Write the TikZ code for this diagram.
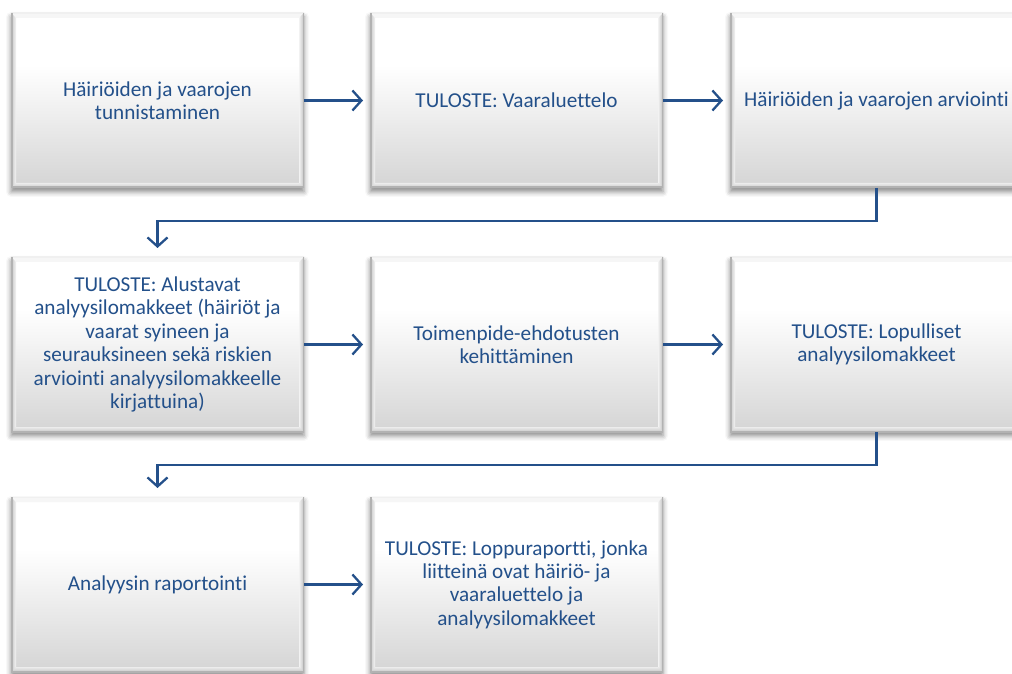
\documentclass[tikz,border=0pt]{standalone}
\usepackage{fontspec}
\setmainfont[Ligatures=NoCommon]{Carlito}
\usetikzlibrary{arrows.meta,shadows.blur}

\definecolor{txtblue}{HTML}{23508A}
\definecolor{arrblue}{HTML}{24508A}
\definecolor{fillbot}{HTML}{D4D4D4}
\definecolor{fillmid}{HTML}{EDEDED}

% vertical fill of the process boxes: light grey at the bottom, white in the upper half
\pgfdeclareverticalshading{bevelfill}{100bp}{%
  color(0bp)=(fillbot); color(25bp)=(fillbot); color(45bp)=(fillmid);
  color(60bp)=(white); color(75bp)=(white); color(100bp)=(white)}

\tikzset{
  stepbox/.style={
    minimum width=293pt, minimum height=175pt, inner sep=0pt, outer sep=0pt,
    shading=bevelfill, align=center, text=txtblue,
    font=\fontsize{21.2}{23.4}\selectfont,
    blur shadow={shadow xshift=0pt, shadow yshift=-4pt,
                 shadow blur radius=5pt, shadow opacity=45},
    path picture={
      % bevel bands along the four edges
      \fill[gray!7]
        (path picture bounding box.north west) -- (path picture bounding box.north east)
        -- ([shift={(-5pt,-5pt)}]path picture bounding box.north east)
        -- ([shift={(5pt,-5pt)}]path picture bounding box.north west) -- cycle;
      \shade[left color=gray!45, right color=gray!8]
        (path picture bounding box.south west) -- (path picture bounding box.north west)
        -- ([shift={(5pt,-5pt)}]path picture bounding box.north west)
        -- ([shift={(5pt,5pt)}]path picture bounding box.south west) -- cycle;
      \shade[left color=gray!10, right color=gray!50]
        (path picture bounding box.south east) -- (path picture bounding box.north east)
        -- ([shift={(-5pt,-5pt)}]path picture bounding box.north east)
        -- ([shift={(-5pt,5pt)}]path picture bounding box.south east) -- cycle;
      \shade[top color=gray!15, bottom color=gray!45]
        (path picture bounding box.south west) -- (path picture bounding box.south east)
        -- ([shift={(-5pt,5pt)}]path picture bounding box.south east)
        -- ([shift={(5pt,5pt)}]path picture bounding box.south west) -- cycle;
      % outer edge lines
      \draw[gray!12, line width=1.5pt]
        (path picture bounding box.north west) -- (path picture bounding box.north east);
      \draw[gray!60, line width=3pt]
        (path picture bounding box.north west) -- (path picture bounding box.south west)
        -- (path picture bounding box.south east) -- (path picture bounding box.north east);
    }
  },
  flow/.style={draw=arrblue, line width=2.3pt,
    -{Straight Barb[length=9pt, width=20pt]}},
}

\begin{document}
\begin{tikzpicture}[x=1pt, y=1pt]
  \path[use as bounding box, clip] (0,0) rectangle (1012,673);

  % first row
  \node[stepbox] (b1) at (157.5,572.5) {Häiriöiden ja vaarojen\\tunnistaminen};
  \node[stepbox] (b2) at (516.5,572.5) {TULOSTE: Vaaraluettelo};
  \node[stepbox] (b3) at (876.5,572.5) {Häiriöiden ja vaarojen arviointi};

  % second row
  \node[stepbox] (b4) at (157.5,328.5) {TULOSTE: Alustavat\\analyysilomakkeet (häiriöt ja\\vaarat syineen ja\\seurauksineen sekä riskien\\arviointi analyysilomakkeelle\\kirjattuina)};
  \node[stepbox] (b5) at (516.5,328.5) {Toimenpide-ehdotusten\\kehittäminen};
  \node[stepbox] (b6) at (876.5,328.5) {TULOSTE: Lopulliset\\analyysilomakkeet};

  % third row
  \node[stepbox] (b7) at (157.5,88.5) {Analyysin raportointi};
  \node[stepbox] (b8) at (516.5,88.5) {TULOSTE: Loppuraportti, jonka\\liitteinä ovat häiriö- ja\\vaaraluettelo ja\\analyysilomakkeet};

  % connectors
  \draw[flow, shorten >=7pt] (b1.east) -- (b2.west);
  \draw[flow, shorten >=7pt] (b2.east) -- (b3.west);
  \draw[flow, shorten >=9pt] (b3.south) -- ++(0,-33) -| (b4.north);
  \draw[flow, shorten >=7pt] (b4.east) -- (b5.west);
  \draw[flow, shorten >=7pt] (b5.east) -- (b6.west);
  \draw[flow, shorten >=9pt] (b6.south) -- ++(0,-33) -| (b7.north);
  \draw[flow, shorten >=7pt] (b7.east) -- (b8.west);
\end{tikzpicture}
\end{document}
